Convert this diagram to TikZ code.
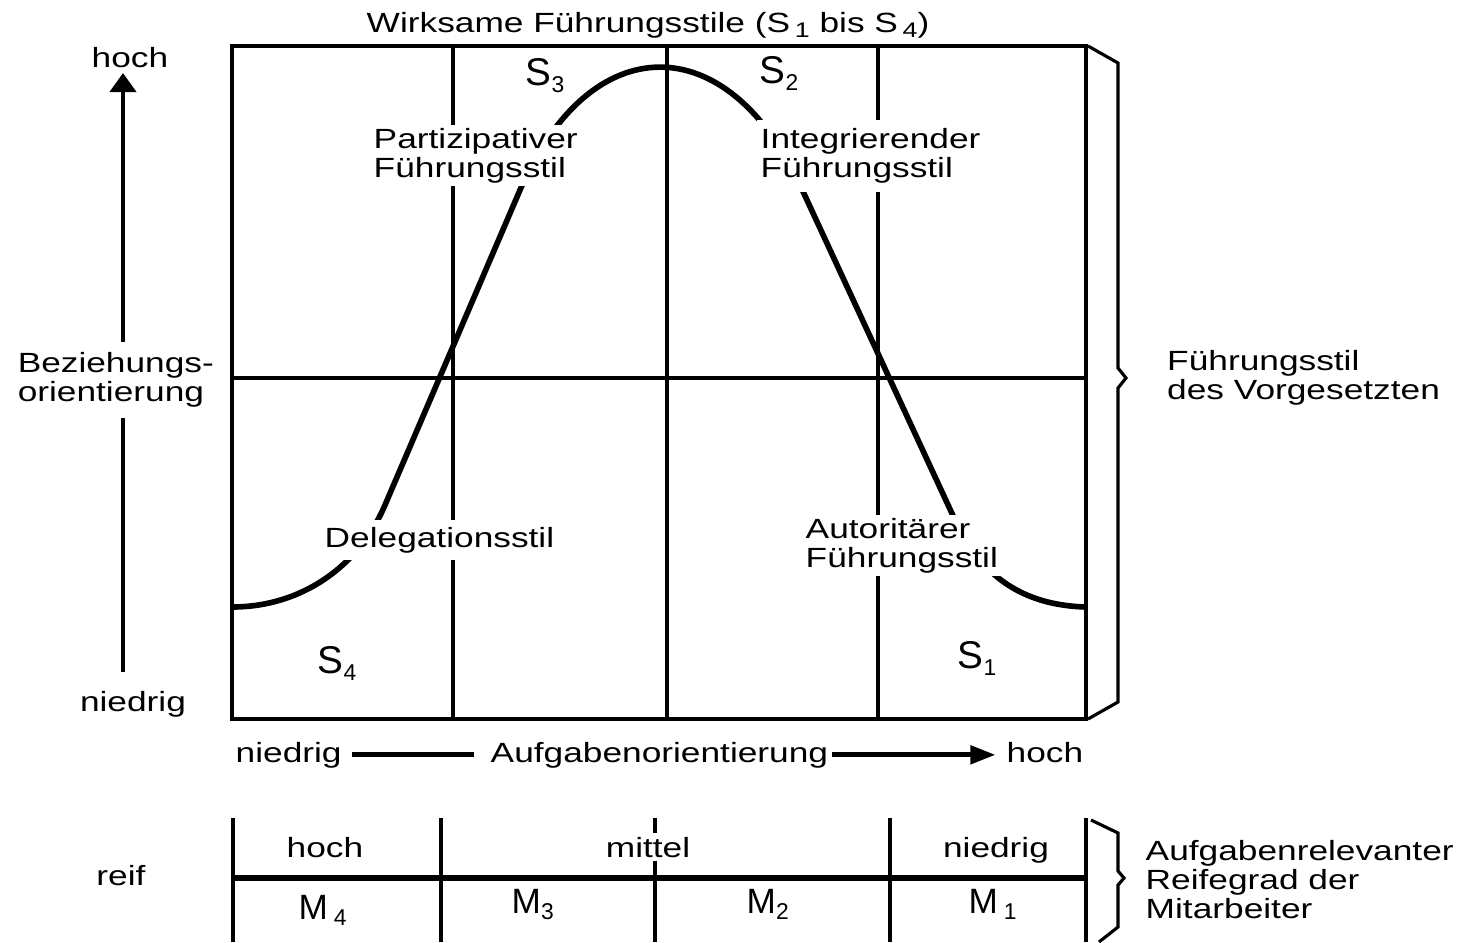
\documentclass[tikz,border=0pt]{standalone}
\usepackage{fontspec}
\setmainfont{Liberation Sans}[FakeStretch=1.27]
\newfontfamily\schmal{Liberation Sans}
\usetikzlibrary{arrows.meta}
\tikzset{lbl/.style={font=\fontsize{7.9}{8.2}\selectfont,align=left,inner sep=1pt}}
\tikzset{cover/.style={lbl,fill=white}}
\tikzset{big/.style={font=\schmal\fontsize{11}{11}\selectfont,inner sep=1pt}}
\tikzset{mbig/.style={font=\schmal\fontsize{10}{10}\selectfont,inner sep=1pt}}
\tikzset{boxline/.style={line width=1pt}}
\tikzset{midline/.style={line width=1.3pt}}
\tikzset{bell/.style={line width=1.6pt}}
\tikzset{rowline/.style={line width=1.5pt}}
\tikzset{bracket/.style={line width=0.9pt,line join=miter}}
\tikzset{yaxis/.style={line width=1.1pt,-{Triangle[length=0.19cm,width=0.26cm]}}}
\tikzset{xaxis/.style={line width=1.4pt}}
\newcommand{\tief}[2][6.5]{\raisebox{-0.35ex}{\fontsize{#1}{#1}\selectfont #2}}

\begin{document}
\begin{tikzpicture}[x=0.01cm,y=-0.01cm]
    \useasboundingbox (0,0) rectangle (1464,942);
    % Raster
    \draw[boxline] (232,46) rectangle (1086,719);
    \foreach \x in {453,667,878} \draw[boxline] (\x,46)--(\x,719);
    \draw[midline] (232,378)--(1086,378);
    % Kurve
    \draw[bell] (232,607) .. controls (300,607) and (358,568) .. (385,505)
        -- (520,190) .. controls (590,27) and (727,27) .. (800,185)
        -- (955,520) .. controls (975,563) and (1010,605) .. (1086,607);
    % Stile
    \node[big, anchor=base west] (s3) at (521.5,85) {S\tief{3}};
    \node[big, anchor=base west] (s2) at (755.5,83) {S\tief{2}};
    \node[big, anchor=base west] (s4) at (313.5,673) {S\tief{4}};
    \node[big, anchor=base west] (s1) at (953.5,668) {S\tief{1}};
    \node[cover, anchor=north west] (partizip) at (369.5,124) {Partizipativer\\Führungsstil};
    \node[cover, inner ysep=2.5pt, anchor=north west] (integr) at (756.5,119) {Integrierender\\Führungsstil};
    \node[cover, inner ysep=2pt, anchor=base west] (deleg) at (320.5,547) {Delegationsstil};
    \node[cover, anchor=north west] (autor) at (801.5,514) {Autoritärer\\Führungsstil};
    \node[lbl, anchor=base west] (titel) at (362.5,32) {Wirksame Führungsstile (S\,\tief[6]{1} bis S\,\tief[6]{4})};
    % y-Achse
    \node[lbl, anchor=base] (yhi) at (130,67) {hoch};
    \node[lbl, anchor=base] (ylo) at (133,711) {niedrig};
    \coordinate (yfoot) at (123,672);
    \coordinate (ytip) at (123,73);
    \draw[yaxis] (yfoot) -- (ytip);
    \node[cover, inner sep=3pt, anchor=north west] (yname) at (6.5,341.5) {Beziehungs-\\orientierung};
    % x-Achse
    \node[lbl, anchor=base west] (xlo) at (231.5,762) {niedrig};
    \node[lbl, anchor=base west] (xname) at (486.5,762) {Aufgabenorientierung};
    \node[lbl, anchor=base west] (xhi) at (1002.5,762) {hoch};
    \draw[xaxis, shorten <=1.8pt, shorten >=3.5pt] (xlo.east) -- (xname.west);
    \draw[xaxis, shorten >=2pt, -{Triangle[length=0.25cm,width=0.18cm]}] (xname.east) -- (xname.east -| xhi.west);
    % Klammer oben
    \draw[bracket] (1088,46)--(1118,63)--(1118,368)--(1126,378)--(1118,388)--(1118,702)--(1088,719);
    \node[lbl, anchor=north west] (vorges) at (1163,346) {Führungsstil\\des Vorgesetzten};
    % Reifegrad
    \foreach \x in {233,441,655,890,1086} \draw[boxline] (\x,818)--(\x,942);
    \draw[rowline] (233,878)--(1086,878);
    \node[lbl, anchor=base] (thoch) at (325,857) {hoch};
    \node[cover, anchor=base] (tmittel) at (648,857) {mittel};
    \node[lbl, anchor=base] (tniedrig) at (996,857) {niedrig};
    \node[lbl, anchor=base] (reif) at (121,885) {reif};
    \node[mbig, anchor=base west] (m4) at (294.5,919) {M\,\tief{4}};
    \node[mbig, anchor=base west] (m3) at (507.5,913) {M\tief{3}};
    \node[mbig, anchor=base west] (m2) at (742.5,913) {M\tief{2}};
    \node[mbig, anchor=base west] (m1) at (964.5,913) {M\,\tief{1}};
    % Klammer unten
    \draw[bracket] (1091,820)--(1118,833)--(1118,871)--(1124,878)--(1118,885)--(1118,927)--(1099,942);
    \node[lbl, anchor=north west] (reife) at (1141.5,836) {Aufgabenrelevanter\\Reifegrad der\\Mitarbeiter};
\end{tikzpicture}
\end{document}
